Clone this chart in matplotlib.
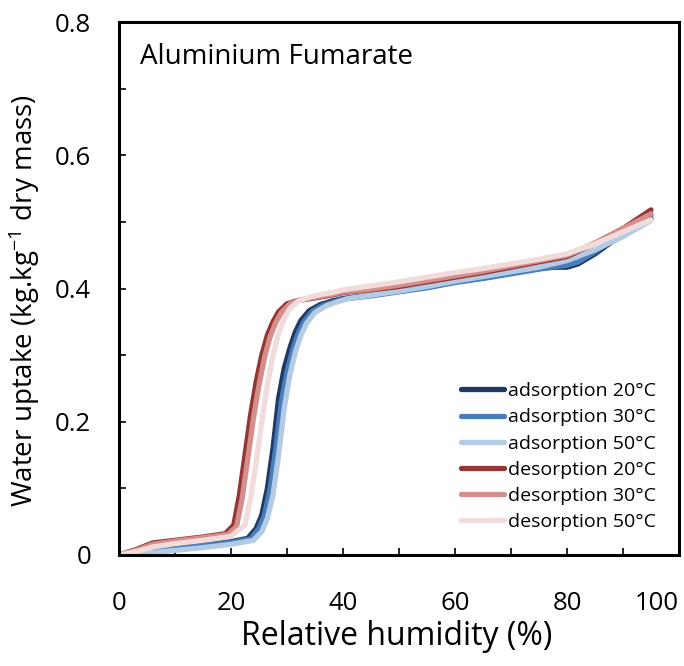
import matplotlib
matplotlib.use('Agg')
from matplotlib import pyplot as plt
from matplotlib.ticker import MultipleLocator

plt.rcParams['font.family'] = ['Open Sans', 'DejaVu Sans']
plt.rcParams['mathtext.fontset'] = 'custom'
plt.rcParams['mathtext.rm'] = 'Open Sans'
plt.rcParams['mathtext.it'] = 'Open Sans'

# relative humidity (%) and water uptake
ads20_x = [0, 5, 10, 15, 20, 23, 24.5, 25.5, 26.5, 27.5, 28.5, 29.5, 30.5, 31.5, 32.5, 34, 36, 38, 40,
           45, 50, 55, 60, 65, 70, 75, 78, 80, 82, 85, 88, 91, 95]
ads20_y = [0, 0.006, 0.01, 0.015, 0.02, 0.025, 0.04, 0.06, 0.1, 0.16, 0.235, 0.28, 0.31, 0.335, 0.352, 0.367,
           0.376, 0.381, 0.385, 0.39, 0.396, 0.402, 0.41, 0.416, 0.423, 0.43, 0.432, 0.432, 0.437, 0.452,
           0.47, 0.485, 0.505]

ads30_x = [0, 5, 10, 15, 20, 23.5, 25, 26, 27, 28, 29, 30, 31, 32, 33, 34.5, 36.5, 38.5, 40,
           45, 50, 55, 60, 65, 70, 75, 78, 80, 82, 85, 88, 91, 95]
ads30_y = [0, 0.005, 0.009, 0.014, 0.019, 0.024, 0.04, 0.06, 0.1, 0.16, 0.23, 0.275, 0.308, 0.333, 0.35, 0.366,
           0.375, 0.38, 0.384, 0.389, 0.395, 0.401, 0.409, 0.415, 0.422, 0.429, 0.433, 0.435, 0.44, 0.455,
           0.473, 0.488, 0.51]

ads50_x = [0, 5, 10, 15, 20, 24, 25.5, 26.5, 27.5, 28.5, 29.5, 30.5, 31.5, 32.5, 33.5, 35, 37, 39, 41,
           45, 50, 55, 60, 65, 70, 75, 80, 85, 90, 95]
ads50_y = [0, 0.003, 0.007, 0.011, 0.016, 0.022, 0.035, 0.055, 0.09, 0.15, 0.22, 0.27, 0.305, 0.33, 0.348, 0.364,
           0.374, 0.38, 0.385, 0.39, 0.396, 0.403, 0.411, 0.418, 0.425, 0.432, 0.442, 0.458, 0.478, 0.502]

des20_x = [0, 3, 6, 10, 15, 19, 20.5, 21.5, 22.5, 23.5, 24.5, 25.5, 26.5, 27.5, 28.5, 30, 32, 35, 38, 40,
           45, 50, 55, 60, 65, 70, 75, 80, 85, 90, 95]
des20_y = [0, 0.008, 0.018, 0.022, 0.027, 0.032, 0.045, 0.09, 0.15, 0.21, 0.26, 0.3, 0.33, 0.35, 0.365,
           0.377, 0.382, 0.386, 0.39, 0.394, 0.398, 0.403, 0.41, 0.417, 0.424, 0.432, 0.44, 0.448, 0.468,
           0.49, 0.518]

des30_x = [0, 3, 6, 10, 15, 19.5, 21, 22, 23, 24, 25, 26, 27, 28, 29, 30.5, 32.5, 35, 38, 40,
           45, 50, 55, 60, 65, 70, 75, 80, 85, 90, 95]
des30_y = [0, 0.007, 0.016, 0.021, 0.026, 0.031, 0.043, 0.085, 0.145, 0.205, 0.255, 0.297, 0.328, 0.349, 0.364,
           0.377, 0.383, 0.387, 0.391, 0.395, 0.399, 0.405, 0.412, 0.419, 0.426, 0.434, 0.442, 0.45, 0.468,
           0.49, 0.512]

des50_x = [0, 3, 6, 10, 15, 20, 22.5, 23.5, 24.5, 25.5, 26.5, 27.5, 28.5, 29.5, 30.5, 32, 34, 36, 38, 40,
           45, 50, 55, 60, 65, 70, 75, 80, 85, 90, 95]
des50_y = [0, 0.005, 0.012, 0.017, 0.022, 0.028, 0.045, 0.085, 0.14, 0.2, 0.255, 0.3, 0.333, 0.355, 0.37,
           0.381, 0.387, 0.391, 0.394, 0.398, 0.404, 0.41, 0.417, 0.424, 0.43, 0.437, 0.444, 0.452, 0.467,
           0.485, 0.503]

x_ticks = [0, 20, 40, 60, 80, 100]
y_ticks = [0, 0.2, 0.4, 0.6, 0.8]
y_tick_labels = ['0', '0.2', '0.4', '0.6', '0.8']

series = [
    (ads20_x, ads20_y, 'adsorption 20°C', '#203864'),
    (ads30_x, ads30_y, 'adsorption 30°C', '#4a7ebb'),
    (ads50_x, ads50_y, 'adsorption 50°C', '#b4cbe6'),
    (des20_x, des20_y, 'desorption 20°C', '#943634'),
    (des30_x, des30_y, 'desorption 30°C', '#d48e8c'),
    (des50_x, des50_y, 'desorption 50°C', '#f2dcdb'),
]

fig = plt.figure(figsize=(6.84, 6.66), dpi=100)
ax = fig.add_axes([119 / 684, 1 - 555 / 666, 560 / 684, 533 / 666])

for x, y, label, color in series:
    ax.plot(x, y, color=color, linewidth=3.8, label=label,
            solid_capstyle='round', solid_joinstyle='round')

ax.set_xlim(0, 100)
ax.set_ylim(0, 0.8)
ax.set_xticks(x_ticks)
ax.xaxis.set_minor_locator(MultipleLocator(10))
ax.yaxis.set_minor_locator(MultipleLocator(0.1))
ax.set_yticks(y_ticks)
ax.set_yticklabels(y_tick_labels)

ax.tick_params(which='both', direction='in', length=5, width=1.2, labelsize=18.5, colors='black')
ax.tick_params(axis='x', which='both', pad=26)
ax.tick_params(axis='y', which='both', pad=20)
for s in ax.spines.values():
    s.set_linewidth(2.2)

# Excel pulls the last x label inside the plot edge
ax.get_xticklabels()[-1].set_ha('right')

ax.set_xlabel('Relative humidity (%)', fontsize=23)
ax.set_ylabel('Water uptake (kg.kg$^{-1}$ dry mass)', fontsize=20)
ax.xaxis.set_label_coords(0.496, -0.122)
ax.yaxis.set_label_coords(-0.137, 0.477)

ax.text(0.038, 0.935, 'Aluminium Fumarate', transform=ax.transAxes, fontsize=20, va='center', ha='left')

ax.legend(loc='lower right', bbox_to_anchor=(0.96, 0.045), frameon=False, fontsize=14,
          handlelength=2.2, handletextpad=0.25, labelspacing=0.42, borderpad=0, borderaxespad=0)

plt.savefig('out.png', dpi=100)
